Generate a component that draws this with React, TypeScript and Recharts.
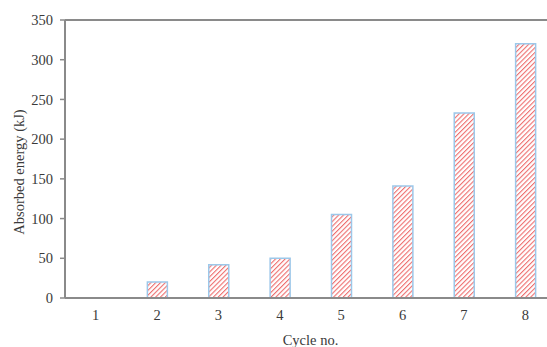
import React from 'react';
import { BarChart, Bar, XAxis, YAxis, ReferenceLine, Label } from 'recharts';

// Absorbed energy per loading cycle
const cycles = ['1', '2', '3', '4', '5', '6', '7', '8'];
const absorbedEnergy = [0, 20, 42, 50, 105, 141, 233, 320];
const yTicks = [0, 50, 100, 150, 200, 250, 300, 350];

const data = cycles.map((c, i) => ({ cycle: c, energy: absorbedEnergy[i] }));

const FONT = '"Liberation Serif", "Times New Roman", serif';
const FS = 14.5;
const TEXT = '#3a3a3a';
const AXIS = '#8a8a8a';

const YLabel = (props: any) => {
  const vb = props.viewBox || {};
  const cx = 19;
  const cy = vb.y + vb.height / 2 + 13;
  return (
    <text
      x={cx}
      y={cy}
      transform={`rotate(-90 ${cx} ${cy})`}
      textAnchor="middle"
      dominantBaseline="central"
      fontFamily={FONT}
      fontSize={FS}
      fill={TEXT}
    >
      Absorbed energy (kJ)
    </text>
  );
};

export default function App() {
  return (
    <div style={{ position: 'absolute', left: 0, top: 0, width: 547, height: 347, overflow: 'hidden', background: '#fff' }}>
      <BarChart
        width={558}
        height={347}
        data={data}
        margin={{ top: 20, right: 2, left: 0, bottom: 0 }}
        barCategoryGap={0}
      >
        <defs>
          <pattern id="hatch" width="3.4" height="3.4" patternUnits="userSpaceOnUse" patternTransform="rotate(45)">
            <rect width="3.4" height="3.4" fill="#ffffff" />
            <line x1="0" y1="0" x2="0" y2="3.4" stroke="#ee6e6e" strokeWidth="2.2" />
          </pattern>
        </defs>
        <XAxis
          dataKey="cycle"
          height={49}
          tickLine={false}
          tickSize={0}
          tickMargin={12}
          axisLine={{ stroke: AXIS, strokeWidth: 2 }}
          tick={{ fontFamily: FONT, fontSize: FS, fill: TEXT }}
        >
          <Label
            value="Cycle no."
            position="insideBottom"
            offset={2}
            style={{ fontFamily: FONT, fontSize: FS, fill: TEXT }}
          />
        </XAxis>
        <YAxis
          width={65}
          domain={[0, 350]}
          ticks={yTicks}
          interval={0}
          tickSize={5}
          tickMargin={7}
          tickLine={{ stroke: AXIS, strokeWidth: 1.5 }}
          axisLine={{ stroke: AXIS, strokeWidth: 2 }}
          tick={{ fontFamily: FONT, fontSize: FS, fill: TEXT }}
          label={<YLabel />}
        />
        <ReferenceLine y={350} stroke={AXIS} strokeWidth={2} />
        <Bar
          dataKey="energy"
          barSize={20}
          fill="url(#hatch)"
          stroke="#9cc8ea"
          strokeWidth={1.5}
          isAnimationActive={false}
        />
      </BarChart>
    </div>
  );
}
